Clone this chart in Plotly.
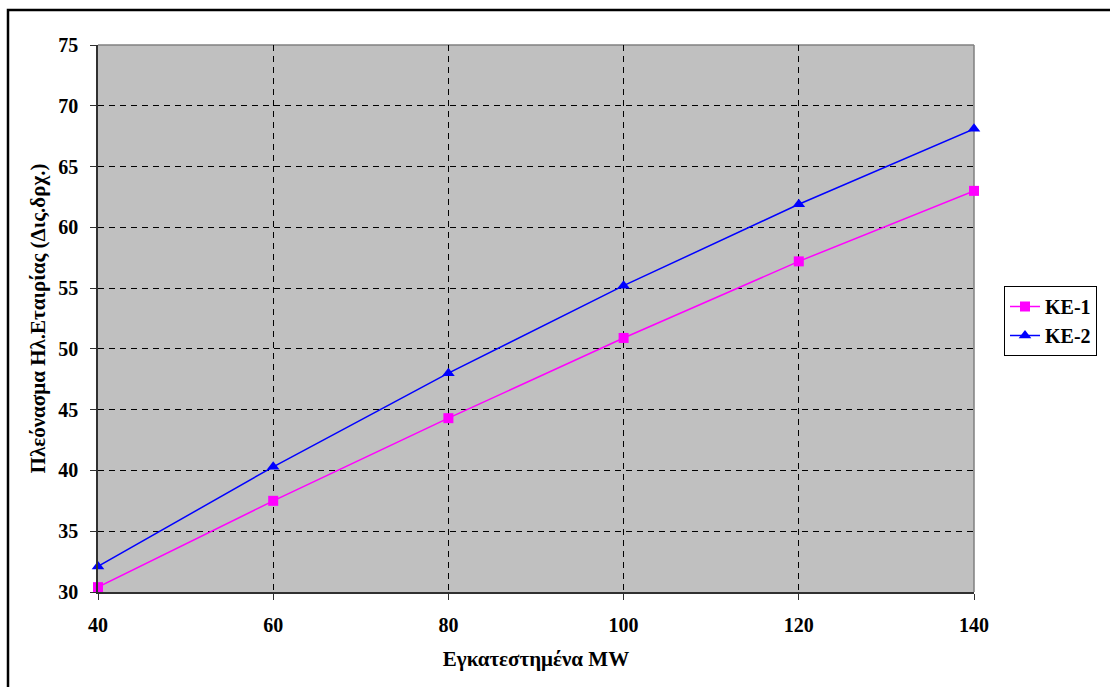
import plotly.graph_objects as go

# Installed capacity (MW) and surplus for the two scenarios
mw = [40, 60, 80, 100, 120, 140]
ke1 = [30.4, 37.5, 44.3, 50.9, 57.2, 63.0]
ke2 = [32.1, 40.3, 48.0, 55.2, 61.9, 68.1]

x_ticks = [40, 60, 80, 100, 120, 140]
y_ticks = [30, 35, 40, 45, 50, 55, 60, 65, 70, 75]

W, H = 1110, 687
L, R, T, B = 98, 136, 45, 95
pw, ph = W - L - R, H - T - B

def px_x(p):
    return (p - L) / pw

def px_y(p):
    return (H - B - p) / ph

font_family = "Liberation Serif, Times New Roman, serif"
FS = 20
TS = 21

fig = go.Figure()
fig.add_trace(go.Scatter(
    x=mw, y=ke1, name="<b>KE-1</b>", mode="lines+markers",
    line=dict(color="#FF00FF", width=1.5),
    marker=dict(symbol="square", size=10, color="#FF00FF"),
    cliponaxis=False,
))
fig.add_trace(go.Scatter(
    x=mw, y=ke2, name="<b>KE-2</b>", mode="lines+markers",
    line=dict(color="#0000FF", width=1.5),
    marker=dict(symbol="triangle-up", size=11, color="#0000FF"),
    cliponaxis=False,
))

axis_common = dict(
    showgrid=True, gridcolor="#000000", gridwidth=1, griddash="6px,5px",
    showline=True, linecolor="#303030", linewidth=1.5,
    ticks="outside", ticklen=6, tickcolor="#303030", tickwidth=1,
    tickfont=dict(family=font_family, size=FS, color="black"),
    zeroline=False,
)

fig.update_xaxes(
    range=[40, 140], tickvals=x_ticks, ticktext=[f"<b>{v}</b>" for v in x_ticks],
    title=dict(text="<b>Εγκατεστημένα MW</b>", font=dict(family=font_family, size=TS, color="black"), standoff=17),
    ticklabelstandoff=8,
    **axis_common,
)
fig.update_yaxes(
    range=[30, 75], tickvals=y_ticks, ticktext=[f"<b>{v}</b>" for v in y_ticks],
    title=dict(text="<b>Πλεόνασμα Ηλ.Εταιρίας (Δις.δρχ.)</b>", font=dict(family=font_family, size=TS, color="black"), standoff=7),
    ticklabelstandoff=8,
    **axis_common,
)

shapes = [
    # top and right edge of the plotting area
    dict(type="line", xref="paper", yref="paper", x0=0, x1=1, y0=1, y1=1,
         line=dict(color="#808080", width=1.5), layer="below"),
    dict(type="line", xref="paper", yref="paper", x0=1, x1=1, y0=0, y1=1,
         line=dict(color="#808080", width=1.5), layer="below"),
    # outer frame around the chart
    dict(type="rect", xref="paper", yref="paper",
         x0=px_x(8), x1=px_x(W + 10), y0=px_y(H + 10), y1=px_y(10),
         line=dict(color="black", width=2.5), fillcolor="rgba(0,0,0,0)"),
]

fig.update_layout(
    width=W, height=H,
    margin=dict(l=L, r=R, t=T, b=B),
    paper_bgcolor="white", plot_bgcolor="#C0C0C0",
    font=dict(family=font_family, color="black"),
    showlegend=True,
    legend=dict(
        x=px_x(1004), y=px_y(286), xanchor="left", yanchor="top",
        bgcolor="white", bordercolor="black", borderwidth=1,
        font=dict(family=font_family, size=FS, color="black"),
        tracegroupgap=0, itemwidth=30,
    ),
    shapes=shapes,
)

fig.write_html("out.html")
